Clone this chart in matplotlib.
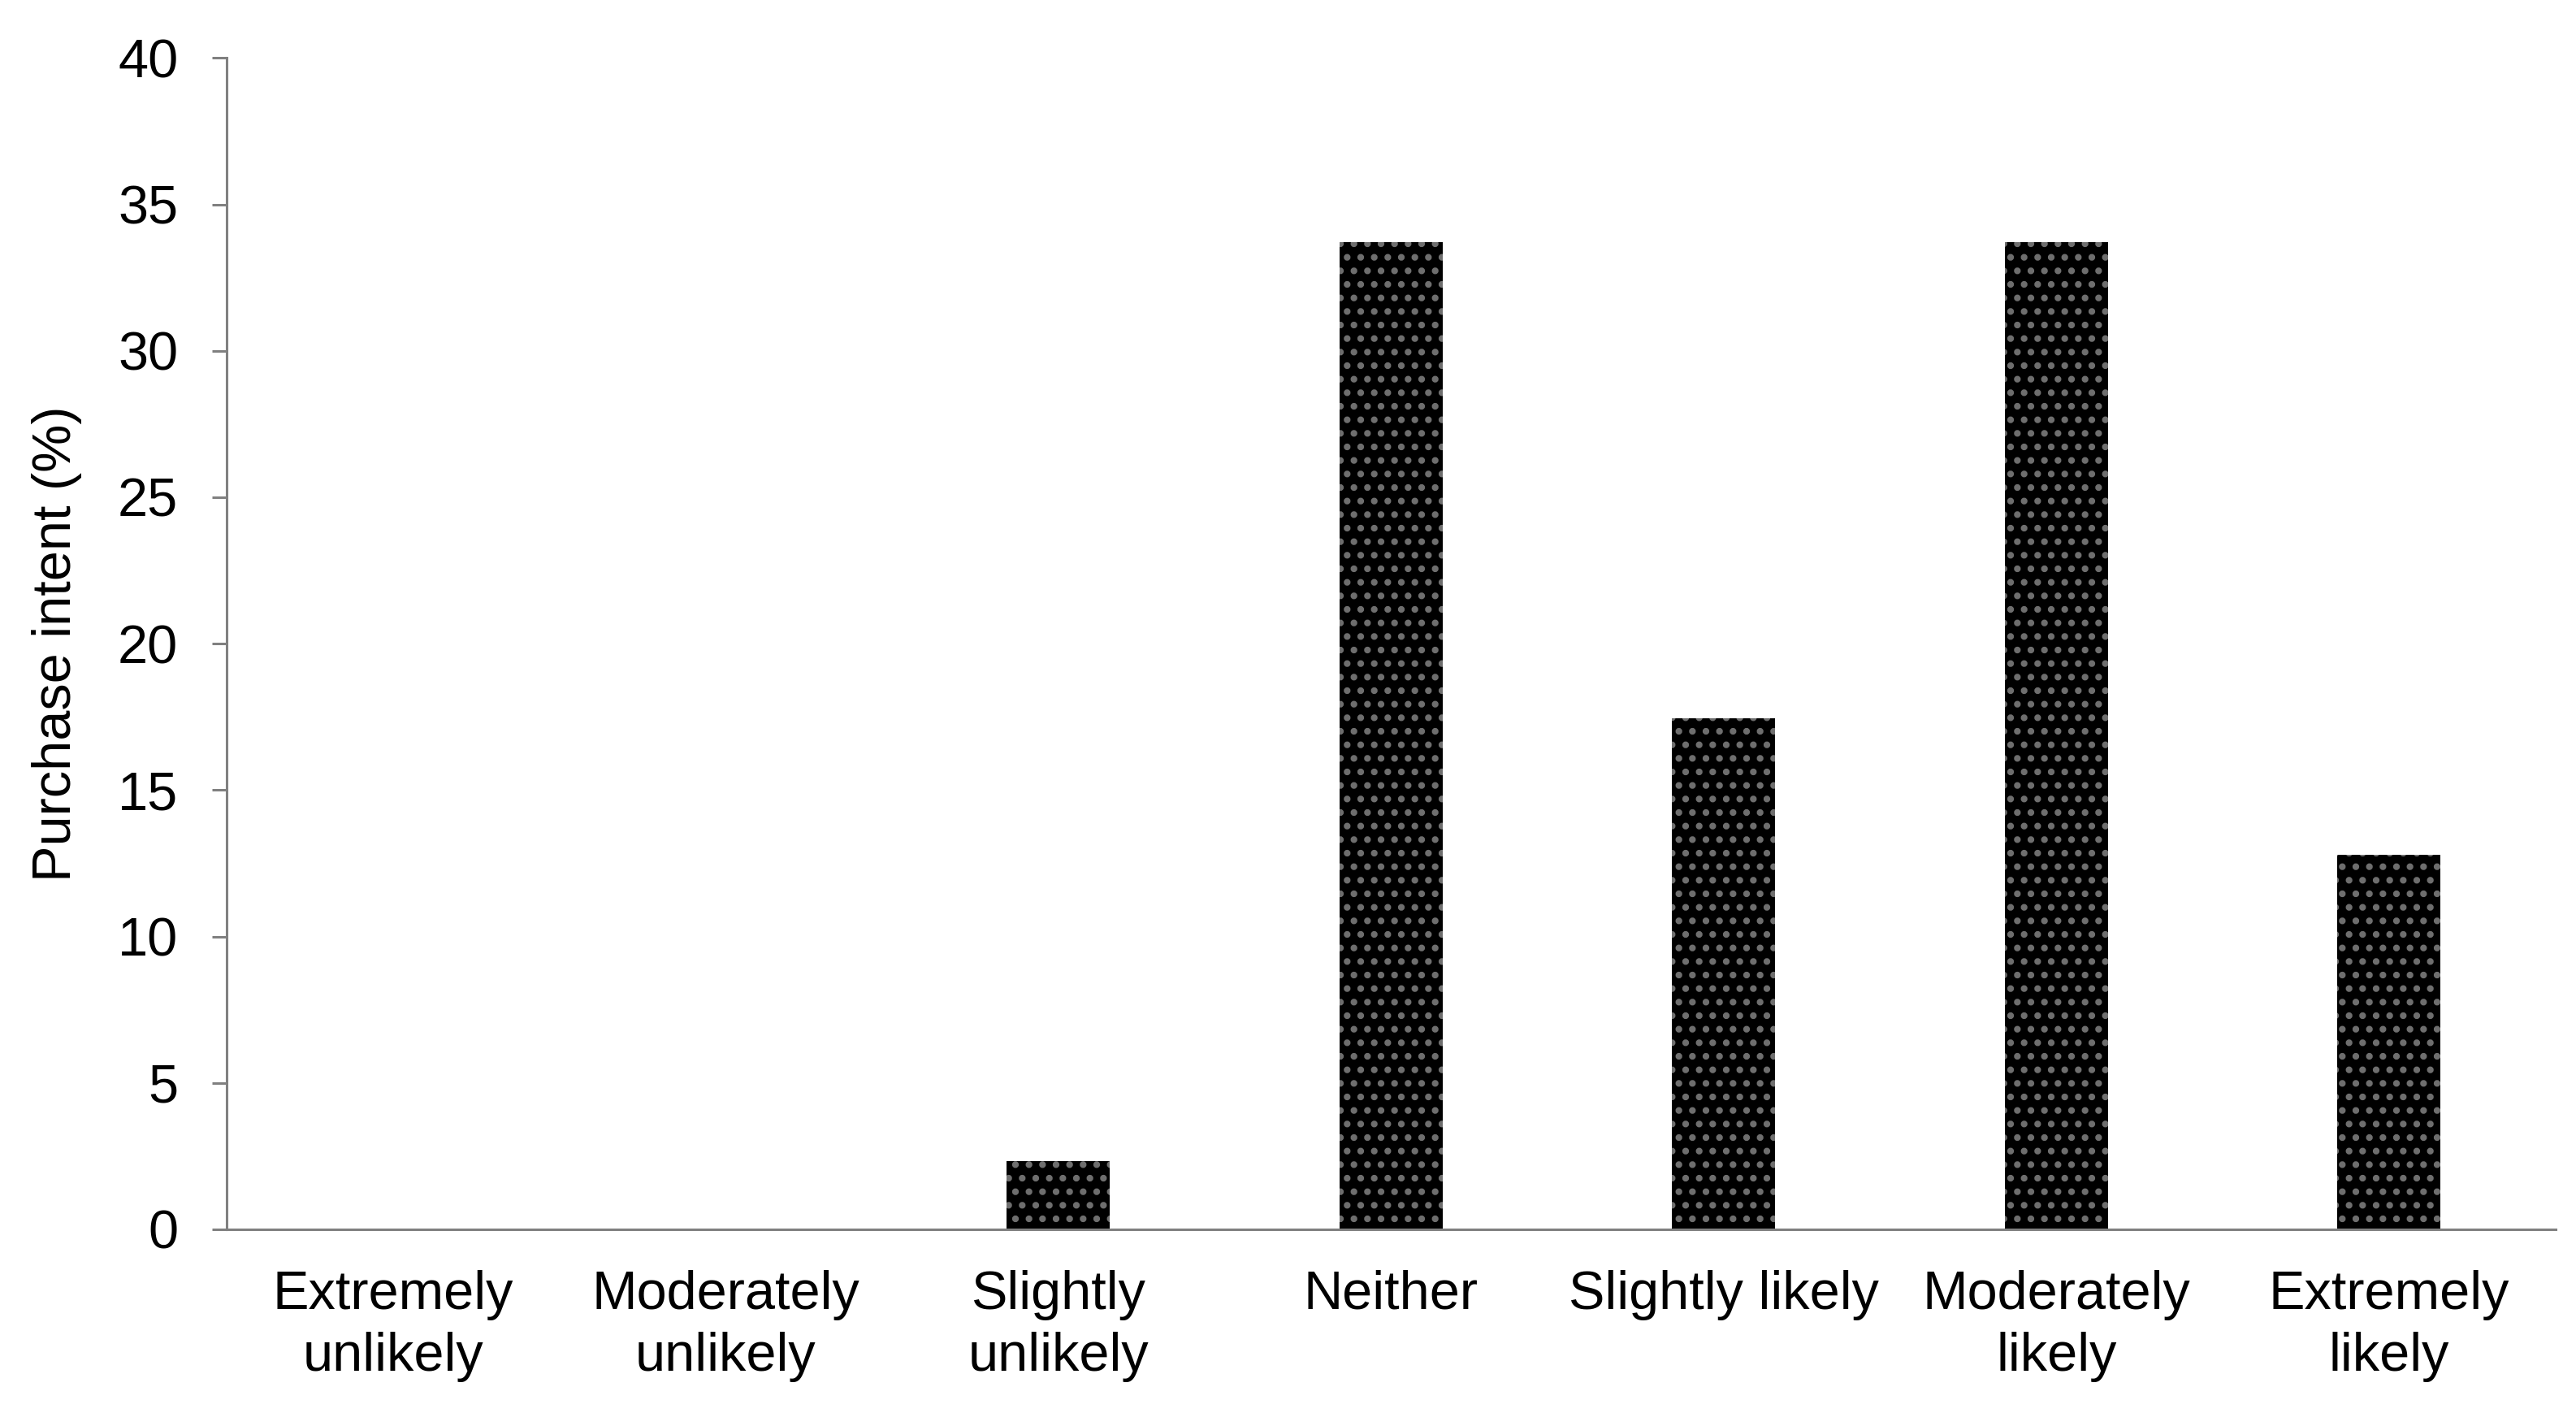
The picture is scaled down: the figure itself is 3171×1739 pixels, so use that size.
import numpy as np
import matplotlib
matplotlib.use("Agg")
import matplotlib.pyplot as plt

## Purchase intent survey responses (%)
categories = ["Extremely\nunlikely", "Moderately\nunlikely", "Slightly\nunlikely", "Neither",
              "Slightly likely", "Moderately\nlikely", "Extremely\nlikely"]
intent = [0.0, 0.0, 2.33, 33.72, 17.44, 33.72, 12.79]
yticks = [0, 5, 10, 15, 20, 25, 30, 35, 40]

plt.rcParams['font.family'] = ['Liberation Sans', 'DejaVu Sans']
plt.rcParams['hatch.linewidth'] = 3.5

fig = plt.figure(figsize=(31.71, 17.39), dpi=100)
ax = fig.add_axes([0.088, 0.13, 0.904, 0.829])

x = np.arange(len(categories))
ax.bar(x, intent, width=0.31, color='black', edgecolor='#6e6e6e', linewidth=0, hatch='.')

ax.set_xlim(-0.5, len(categories) - 0.5)
ax.set_ylim(0, 40)
ax.set_yticks(yticks)
ax.set_xticks(x)
ax.set_xticklabels(categories, fontsize=48, linespacing=1.3)
ax.tick_params(axis='y', labelsize=48, length=13, width=2.2, color='#808080', pad=30)
ax.tick_params(axis='x', length=0, pad=36)

for side in ['top', 'right']:
    ax.spines[side].set_visible(False)
for side in ['left', 'bottom']:
    ax.spines[side].set_color('#808080')
    ax.spines[side].set_linewidth(2.2)

ax.set_ylabel('Purchase intent (%)', fontsize=48, labelpad=32)

fig.savefig('out.png', dpi=100, facecolor='white')
